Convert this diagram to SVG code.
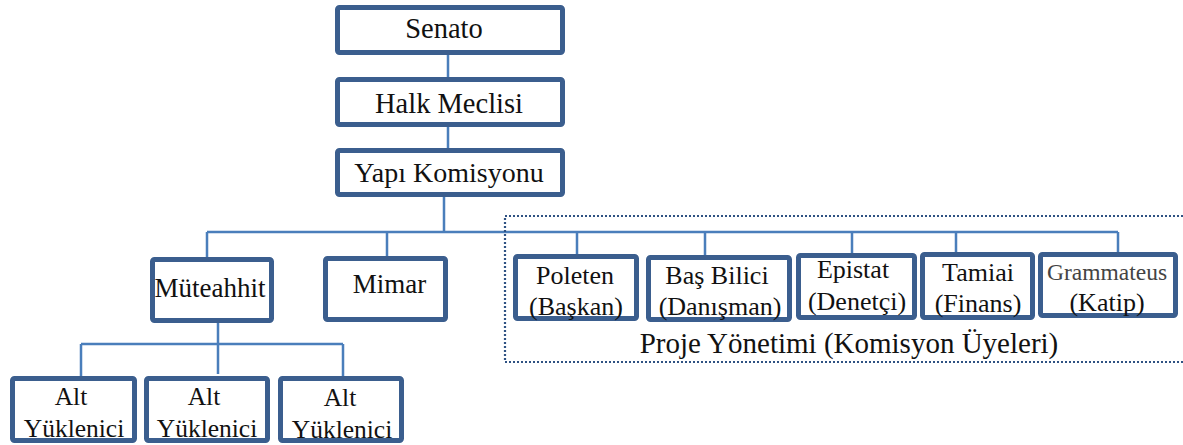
<svg xmlns="http://www.w3.org/2000/svg" width="1183" height="445" viewBox="0 0 1183 445">
<style>
.box{fill:#fff;stroke:#3B5E8E;stroke-width:5}
.c{fill:none;stroke:#4A7EBB;stroke-width:2.5}
</style>
<rect width="1183" height="445" fill="#fff"/>
<g id="connectors">
<path class="c" d="M448 55V77M448 127V148M444 197V232M207 232H1118M207 232V259M387 232V258M577 232V256M705 232V257M852 232V255M956 232V254M1118 232V254"/>
<path class="c" d="M218 323V374M81 344H343M81 344V378M343 344V376"/>
</g>
<g font-family="Liberation Serif, DejaVu Serif, serif" fill="#111" text-anchor="middle">
<g id="group-proje">
<rect x="505" y="216" width="690" height="146" fill="none" stroke="#2F5283" stroke-width="2.2" stroke-dasharray="2 2"/>
<text x="849" y="353" font-size="29">Proje Yönetimi (Komisyon Üyeleri)</text>
</g>
<g id="senato" font-size="28.5"><rect class="box" x="337.5" y="7.5" width="225" height="45" rx="2"/><text x="444" y="38">Senato</text></g>
<g id="halk-meclisi" font-size="28.5"><rect class="box" x="337.5" y="79.5" width="225" height="45" rx="2"/><text x="449" y="113">Halk Meclisi</text></g>
<g id="yapi-komisyonu" font-size="28"><rect class="box" x="337.5" y="150.5" width="225" height="44" rx="2"/><text x="449" y="182">Yapı Komisyonu</text></g>
<g id="muteahhit" font-size="27"><rect class="box" x="152.5" y="259.5" width="119" height="61" rx="2"/><text x="210" y="297">Müteahhit</text></g>
<g id="mimar" font-size="27"><rect class="box" x="325.5" y="258.5" width="120" height="61" rx="2"/><text x="389.5" y="293">Mimar</text></g>
<g id="alt1" font-size="25.5"><rect class="box" x="12.5" y="378.5" width="122" height="62" rx="2"/><text x="71" y="405">Alt</text><text x="74" y="437">Yüklenici</text></g>
<g id="alt2" font-size="25.5"><rect class="box" x="146.5" y="378.5" width="121" height="62" rx="2"/><text x="204" y="405">Alt</text><text x="207" y="437">Yüklenici</text></g>
<g id="alt3" font-size="25.5"><rect class="box" x="280.5" y="378.5" width="121" height="62" rx="2"/><text x="340" y="406">Alt</text><text x="342" y="438">Yüklenici</text></g>
<g id="poleten" font-size="26"><rect class="box" x="515.5" y="256.5" width="121" height="62" rx="2"/><text x="575" y="284">Poleten</text><text x="576" y="315">(Başkan)</text></g>
<g id="bas-bilici" font-size="26"><rect class="box" x="648.5" y="257.5" width="141" height="62" rx="2"/><text x="717" y="284">Baş Bilici</text><text x="720" y="315">(Danışman)</text></g>
<g id="epistat" font-size="26"><rect class="box" x="798.5" y="255.5" width="116" height="62" rx="2"/><text x="853" y="278">Epistat</text><text x="857" y="310">(Denetçi)</text></g>
<g id="tamiai" font-size="26"><rect class="box" x="922.5" y="254.5" width="110" height="63" rx="2"/><text x="978" y="281">Tamiai</text><text x="978" y="312">(Finans)</text></g>
<g id="grammateus" font-size="26"><rect class="box" x="1040.5" y="254.5" width="135" height="61" rx="2"/><text x="1107" y="280" font-size="23.5" fill="#444">Grammateus</text><text x="1107" y="311">(Katip)</text></g>
</g>
</svg>
